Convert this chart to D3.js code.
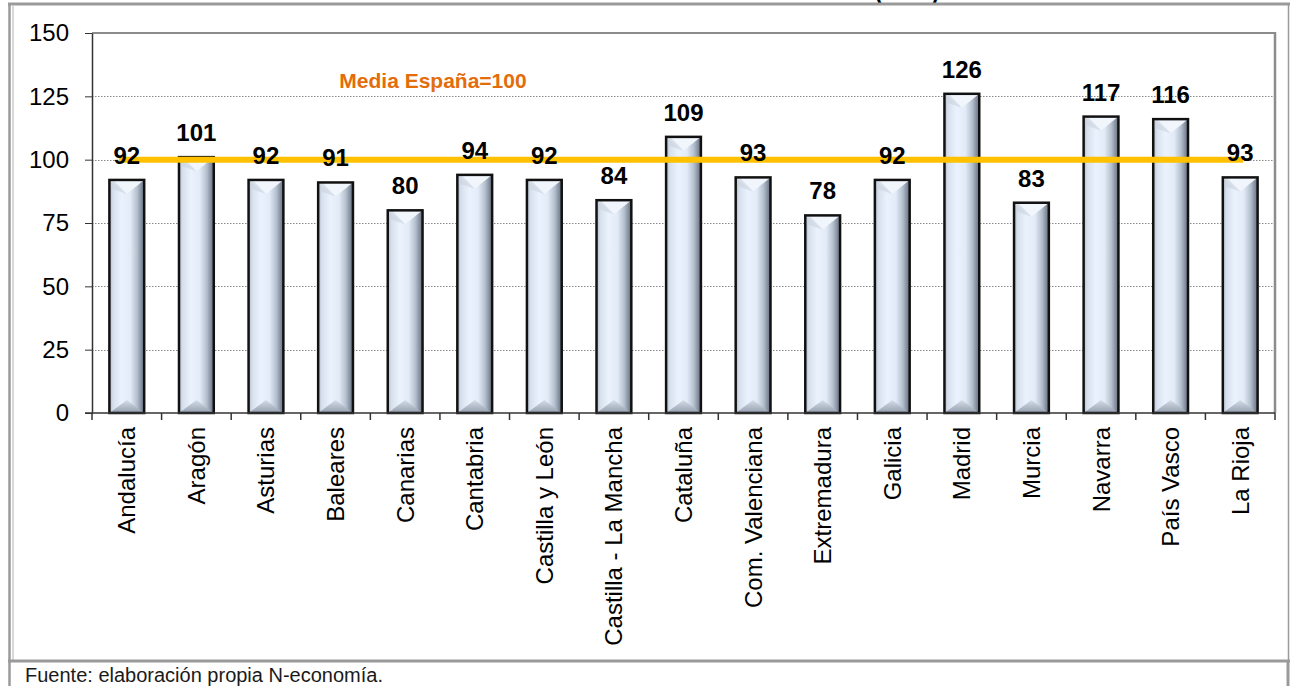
<!DOCTYPE html>
<html>
<head>
<meta charset="utf-8">
<script src="https://cdn.jsdelivr.net/npm/d3@7"></script>
<style>
  html, body { margin: 0; padding: 0; background: #fff; }
  svg { display: block; }
  text { font-family: Arial, "Liberation Sans", sans-serif; }
</style>
</head>
<body>
<svg id="chart" width="1290" height="686"></svg>
<script>
// ---- Data ----
const categories = ["Andalucía", "Aragón", "Asturias", "Baleares", "Canarias", "Cantabria",
  "Castilla y León", "Castilla - La Mancha", "Cataluña", "Com. Valenciana", "Extremadura",
  "Galicia", "Madrid", "Murcia", "Navarra", "País Vasco", "La Rioja"];
const values = [92, 101, 92, 91, 80, 94, 92, 84, 109, 93, 78, 92, 126, 83, 117, 116, 93];
const yTicks = [0, 25, 50, 75, 100, 125, 150];
const referenceValue = 100;
const referenceLabel = "Media España=100";
const titleText = "(2008)";
const sourceText = "Fuente: elaboración propia N-economía.";

// ---- Layout ----
const W = 1290, H = 686;
const plot = { left: 92, right: 1275, top: 33, bottom: 413 };

const svg = d3.select("#chart");

const x = d3.scaleBand().domain(categories).range([plot.left, plot.right])
  .paddingInner(0.5).paddingOuter(0.25);
const y = d3.scaleLinear().domain([0, 150]).range([plot.bottom, plot.top]);

// ---- Defs ----
const defs = svg.append("defs");
const g1 = defs.append("linearGradient").attr("id", "barBody").attr("x1", "0").attr("x2", "1").attr("y1", "0").attr("y2", "0");
[[0, "#aeb8c6"], [0.1, "#d6e0ec"], [0.35, "#eaf2fd"], [0.6, "#e2ebf7"], [0.8, "#b4bfce"], [1, "#646e7e"]]
  .forEach(([o, c]) => g1.append("stop").attr("offset", o).attr("stop-color", c));
const g2 = defs.append("linearGradient").attr("id", "barBottom").attr("x1", "0").attr("x2", "0").attr("y1", "0").attr("y2", "1");
[[0, "#d4dde9"], [1, "#959fae"]].forEach(([o, c]) => g2.append("stop").attr("offset", o).attr("stop-color", c));

// ---- Frame ----
svg.append("rect").attr("width", W).attr("height", H).attr("fill", "#fff");

// Title (cut off at top, as in the original)
svg.append("text").attr("x", 907).attr("y", 0).attr("text-anchor", "middle")
  .attr("font-size", 22).attr("font-weight", "bold").attr("fill", "#000").text(titleText);

const frame = svg.append("g").attr("stroke", "#9a9a9a").attr("fill", "none");
frame.append("line").attr("x1", 8).attr("x2", 1290).attr("y1", 4).attr("y2", 4).attr("stroke-width", 3);
frame.append("line").attr("x1", 9.5).attr("x2", 9.5).attr("y1", 3).attr("y2", 686).attr("stroke-width", 2.5);
frame.append("line").attr("x1", 13).attr("x2", 13).attr("y1", 6).attr("y2", 660).attr("stroke-width", 1).attr("stroke", "#b0b0b0");
frame.append("line").attr("x1", 1288.5).attr("x2", 1288.5).attr("y1", 5).attr("y2", 660).attr("stroke-width", 1.5);
frame.append("line").attr("x1", 8).attr("x2", 1290).attr("y1", 661).attr("y2", 661).attr("stroke-width", 3);
frame.append("line").attr("x1", 1288).attr("x2", 1288).attr("y1", 660).attr("y2", 686).attr("stroke-width", 3);

// Footer
svg.append("text").attr("x", 25).attr("y", 682).attr("font-size", 20).attr("fill", "#1a1a1a").text(sourceText);

// ---- Gridlines ----
svg.append("g").selectAll("line").data(yTicks.filter(t => t > 0 && t < 150)).join("line")
  .attr("x1", plot.left).attr("x2", plot.right)
  .attr("y1", d => Math.round(y(d)) + 0.5).attr("y2", d => Math.round(y(d)) + 0.5)
  .attr("stroke", "#8a8a8a").attr("stroke-width", 1).attr("stroke-dasharray", "1.5,1.5");

// Plot border top/right
svg.append("line").attr("x1", plot.left).attr("x2", plot.right + 1).attr("y1", plot.top).attr("y2", plot.top)
  .attr("stroke", "#8c8c8c").attr("stroke-width", 2);
svg.append("line").attr("x1", plot.right).attr("x2", plot.right).attr("y1", plot.top - 1).attr("y2", plot.bottom)
  .attr("stroke", "#8c8c8c").attr("stroke-width", 2.5);

// ---- Bars ----
const bars = svg.append("g").selectAll("g").data(values).join("g");
bars.each(function(v, i) {
  const g = d3.select(this);
  const x0 = x(categories[i]), bw = x.bandwidth(), x1 = x0 + bw, xc = x0 + bw / 2;
  const top = y(v), bot = y(0);
  g.append("rect").attr("x", x0).attr("y", top).attr("width", bw).attr("height", bot - top)
    .attr("fill", "url(#barBody)");
  g.append("path").attr("d", `M${x0},${top}L${x1},${top}L${xc},${top + 14}Z`).attr("fill", "#f1f6fd");
  g.append("path").attr("d", `M${x0},${top}L${x0 + 4},${top}L${xc},${top + 14}L${x0},${top + 8}Z`).attr("fill", "#c9d2de").attr("opacity", 0.6);
  g.append("path").attr("d", `M${x0},${bot}L${x1},${bot}L${xc},${bot - 13}Z`).attr("fill", "url(#barBottom)");
  g.append("rect").attr("x", x0).attr("y", top).attr("width", bw).attr("height", bot - top)
    .attr("fill", "none").attr("stroke", "#111").attr("stroke-width", 2.5);
});

// ---- Reference line ----
const firstC = x(categories[0]) + x.bandwidth() / 2;
const lastC = x(categories[categories.length - 1]) + x.bandwidth() / 2;
svg.append("line").attr("x1", firstC - 8).attr("x2", lastC + 3)
  .attr("y1", y(referenceValue)).attr("y2", y(referenceValue))
  .attr("stroke", "#FFC000").attr("stroke-width", 6);
svg.append("text").attr("x", 433).attr("y", 88).attr("text-anchor", "middle")
  .attr("font-size", 21).attr("font-weight", "bold").attr("fill", "#E46C0A").text(referenceLabel);

// ---- Value labels ----
svg.append("g").selectAll("text").data(values).join("text")
  .attr("x", (d, i) => x(categories[i]) + x.bandwidth() / 2)
  .attr("y", d => y(d) - 16)
  .attr("text-anchor", "middle").attr("font-size", 24).attr("font-weight", "bold").attr("fill", "#000")
  .text(d => d);

// ---- Axes ----
const yAxis = d3.axisLeft(y).tickValues(yTicks).tickSize(7).tickSizeOuter(0);
const yg = svg.append("g").attr("transform", `translate(${plot.left},0)`).call(yAxis);
yg.select(".domain").attr("stroke", "#333").attr("stroke-width", 1.5);
yg.selectAll(".tick line").attr("stroke", "#333");
yg.selectAll(".tick text").attr("font-size", 24).attr("fill", "#000").attr("x", -23)
  .attr("font-family", "Arial, 'Liberation Sans', sans-serif");

// x axis line
svg.append("line").attr("x1", plot.left - 7).attr("x2", plot.right).attr("y1", plot.bottom).attr("y2", plot.bottom)
  .attr("stroke", "#333").attr("stroke-width", 1.5);
// x ticks at band boundaries
const boundaries = categories.map(c => x(c) - x.step() * x.paddingInner() / 2).concat([plot.right]);
svg.append("g").selectAll("line").data(boundaries).join("line")
  .attr("x1", d => d).attr("x2", d => d).attr("y1", plot.bottom).attr("y2", plot.bottom + 7)
  .attr("stroke", "#333").attr("stroke-width", 1.5);

// x labels rotated
svg.append("g").selectAll("text").data(categories).join("text")
  .attr("transform", d => `translate(${x(d) + x.bandwidth() / 2 + 8.5},427) rotate(-90)`)
  .attr("text-anchor", "end").attr("font-size", 24).attr("fill", "#000")
  .text(d => d);
</script>
</body>
</html>
